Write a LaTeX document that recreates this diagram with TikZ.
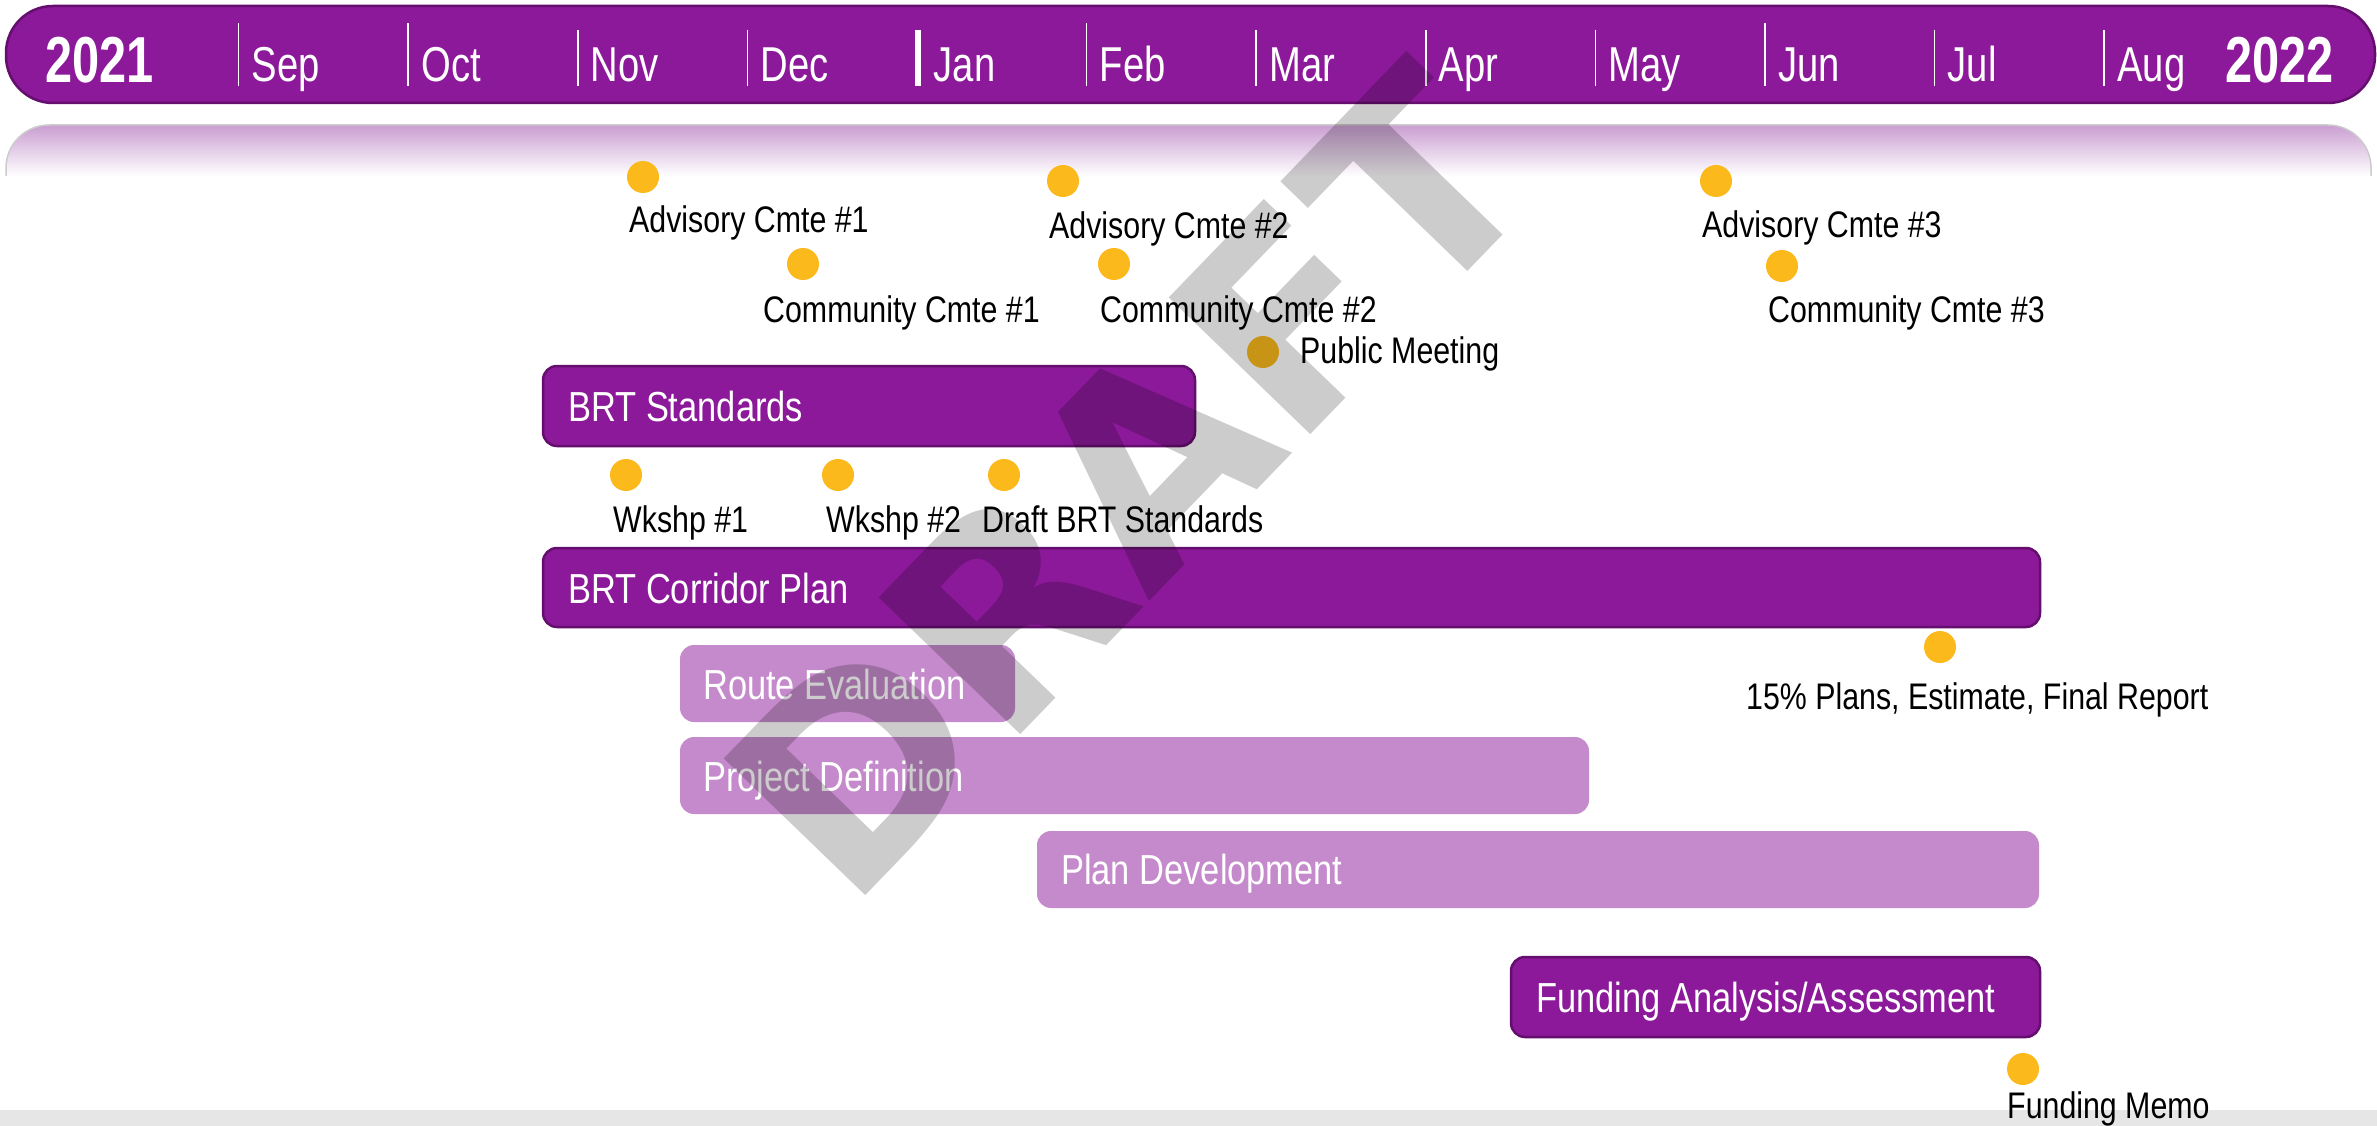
\documentclass[tikz,border=0pt]{standalone}
\usepackage{fontspec}
\setmainfont{Liberation Sans}[FakeStretch=0.82]
\newfontfamily\monthfont{Liberation Sans}[FakeStretch=0.78]
\newfontfamily\yearfont{Liberation Sans}[FakeStretch=0.75]
\newfontfamily\wmfont{DejaVu Sans}
\usetikzlibrary{shapes.geometric}
\definecolor{barpurple}{RGB}{139,25,153}
\definecolor{barborder}{RGB}{100,14,110}
\definecolor{lightpurple}{RGB}{197,138,203}
\definecolor{dotyellow}{RGB}{251,185,28}
\definecolor{bandtop}{RGB}{202,158,210}
\definecolor{bottomgray}{RGB}{230,230,230}
\tikzset{
  monthlbl/.style={anchor=base west, inner sep=0, text=white, font=\monthfont\fontsize{49}{52}\selectfont},
  yearlbl/.style={anchor=base west, inner sep=0, text=white, font=\yearfont\bfseries\fontsize{65}{68}\selectfont},
  tickline/.style={white, line width=1.6},
  msdot/.style={circle, fill=dotyellow, minimum size=32, inner sep=0},
  mstext/.style={anchor=base west, inner sep=0, text=black, font=\fontsize{37}{40}\selectfont},
  darkbar/.style={fill=barpurple, draw=barborder, line width=2.5, rounded corners=14},
  lightbar/.style={fill=lightpurple, rounded corners=14},
  barlbl/.style={anchor=base west, inner sep=0, text=white, font=\fontsize{42}{46}\selectfont},
}
\begin{document}
\begin{tikzpicture}[x=1pt,y=-1pt]
\useasboundingbox (0,0) rectangle (2377,1126);
\fill[white] (0,0) rectangle (2377,1126);
% bottom gray band
\fill[bottomgray] (0,1110) rectangle (2377,1126);
% gradient band
\shade[top color=bandtop, bottom color=white] (6,176) {[rounded corners=43] -- (6,125) -- (2371,125)} -- (2371,176) -- cycle;
\draw[black!20, line width=1.5] (6,176) {[rounded corners=43] -- (6,125) -- (2371,125)} -- (2371,176);
\fill[white] (0,176) rectangle (2377,182);
% top bar
\draw[fill=barpurple, draw=barborder, line width=2.5, rounded corners=47] (6,6) rectangle (2375,103);
% ticks
\foreach \k/\m/\ytop in {0/Sep/23,1/Oct/23,2/Nov/30,3/Dec/30,5/Feb/23,6/Mar/30,7/Apr/30,8/May/30,9/Jun/23,10/Jul/30,11/Aug/30}{
  \draw[tickline] ({238.5+169.6*\k},\ytop) -- ({238.5+169.6*\k},86);
  \node[monthlbl] (m\k) at ({251.5+169.6*\k},82) {\m};
}
\draw[white, line width=6] (918,30) -- (918,86);
\node[monthlbl] (m4) at (933.5,82) {Jan};
\node[yearlbl] (y2021) at (45,83) {2021};
\node[yearlbl] (y2022) at (2225,83) {2022};
% bars
\draw[darkbar] (543,366) rectangle (1195,446);
\node[barlbl] (brtstd) at (568,421) {BRT Standards};
\draw[darkbar] (543,548) rectangle (2040,627);
\node[barlbl] (brtcor) at (568,603) {BRT Corridor Plan};
\fill[lightbar] (680,645) rectangle (1015,722);
\node[barlbl] (route) at (703,699) {Route Evaluation};
\fill[lightbar] (680,737) rectangle (1589,814);
\node[barlbl] (projdef) at (703,791) {Project Definition};
\fill[lightbar] (1037,831) rectangle (2039,908);
\node[barlbl] (plandev) at (1061,884) {Plan Development};
\draw[darkbar] (1511,957) rectangle (2040,1037);
\node[barlbl] (fund) at (1536,1012) {Funding Analysis/Assessment};
% milestones
\node[msdot] (dA1) at (643,177) {};
\node[mstext] (tA1) at (629,233) {Advisory Cmte \#1};
\node[msdot] (dA2) at (1063,181) {};
\node[mstext] (tA2) at (1049,238) {Advisory Cmte \#2};
\node[msdot] (dA3) at (1716,181) {};
\node[mstext] (tA3) at (1702,237) {Advisory Cmte \#3};
\node[msdot] (dC1) at (803,264) {};
\node[mstext] (tC1) at (763,322) {Community Cmte \#1};
\node[msdot] (dC2) at (1114,264) {};
\node[mstext] (tC2) at (1100,322) {Community Cmte \#2};
\node[msdot] (dC3) at (1782,266) {};
\node[mstext] (tC3) at (1768,322) {Community Cmte \#3};
\node[msdot] (dPM) at (1263,352) {};
\node[mstext] (tPM) at (1300,363) {Public Meeting};
\node[msdot] (dW1) at (626,475) {};
\node[mstext] (tW1) at (613,532) {Wkshp \#1};
\node[msdot] (dW2) at (838,475) {};
\node[mstext] (tW2) at (826,532) {Wkshp \#2};
\node[msdot] (dDS) at (1004,475) {};
\node[mstext] (tDS) at (982,532) {Draft BRT Standards};
\node[msdot] (dP15) at (1940,647) {};
\node[mstext] (tP15) at (1746,709) {15\% Plans, Estimate, Final Report};
\node[msdot] (dFM) at (2023,1069) {};
\node[mstext] (tFM) at (2007,1118) {Funding Memo};
% watermark
\node[rotate=46, inner sep=0, text=black, text opacity=0.2, font=\wmfont\bfseries\fontsize{270}{270}\selectfont] (draft) at (1128,482) {DRAFT};
\end{tikzpicture}
\end{document}
